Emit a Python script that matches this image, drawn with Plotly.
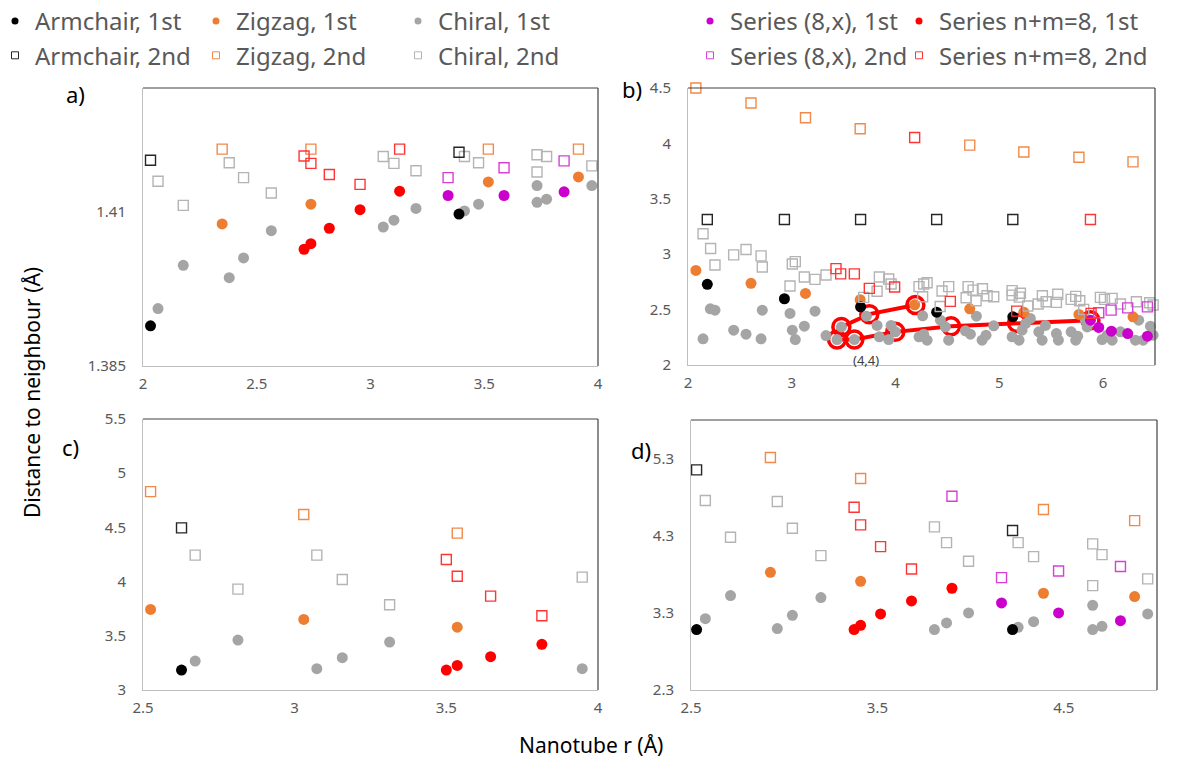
import plotly.graph_objects as go

# ---------------- Panel a ----------------
a_arm_r = [2.033, 3.389]
a_arm_1st = [1.3915, 1.4096]
a_arm_2nd = [1.4183, 1.4196]
a_zig_r = [2.348, 2.738, 3.518, 3.914]
a_zig_1st = [1.4080, 1.4112, 1.4148, 1.4156]
a_zig_2nd = [1.4201, 1.4201, 1.4201, 1.4201]
a_chi_r = [2.066, 2.177, 2.379, 2.442, 2.564, 3.056, 3.103, 3.200, 3.413, 3.475, 3.732, 3.732, 3.774, 3.973]
a_chi_1st = [1.3943, 1.4013, 1.3993, 1.4025, 1.4069, 1.4075, 1.4086, 1.4105, 1.4101, 1.4112, 1.4142, 1.4115, 1.4120, 1.4142]
a_chi_2nd = [1.4149, 1.4110, 1.4179, 1.4155, 1.4130, 1.4189, 1.4178, 1.4166, 1.4189, 1.4179, 1.4192, 1.4164, 1.4189, 1.4174]
a_s8x_r = [3.341, 3.587, 3.851]
a_s8x_1st = [1.4126, 1.4126, 1.4132]
a_s8x_2nd = [1.4155, 1.4171, 1.4182]
a_nm8_r = [2.708, 2.738, 2.819, 2.954, 3.128]
a_nm8_1st = [1.4039, 1.4048, 1.4073, 1.4103, 1.4133]
a_nm8_2nd = [1.4190, 1.4178, 1.4160, 1.4144, 1.4201]

# ---------------- Panel b ----------------
b_arm_r = [2.186, 2.929, 3.663, 4.396, 5.130]
b_arm_1st = [2.728, 2.598, 2.525, 2.477, 2.435]
b_arm_2nd = [3.313, 3.313, 3.313, 3.313, 3.313]
b_zig_r1 = [2.076, 2.607, 3.132, 3.659, 4.184, 4.715, 5.236, 5.767, 6.288]
b_zig_1st = [2.854, 2.737, 2.646, 2.589, 2.543, 2.507, 2.477, 2.456, 2.435]
b_zig_r2 = [2.076, 2.607, 3.132, 3.659, 4.715, 5.236, 5.767, 6.288]
b_zig_2nd = [4.500, 4.364, 4.231, 4.132, 3.984, 3.923, 3.875, 3.833]
b_chi_r1 = [2.145, 2.215, 2.260, 2.440, 2.559, 2.704, 2.716, 3.005, 3.034, 2.983, 3.121, 3.224,
            3.330, 3.478, 3.436, 3.603, 3.719, 3.822, 3.844, 3.934, 3.957, 3.998, 4.226, 4.271,
            4.304, 4.261, 4.432, 4.480, 4.512, 4.673, 4.721, 4.779, 4.834, 4.872, 4.946, 5.123,
            5.190, 5.219, 5.254, 5.299, 5.380, 5.412, 5.444, 5.550, 5.569, 5.692, 5.736, 5.755,
            5.829, 5.846, 5.990, 6.039, 6.087, 6.167, 6.311, 6.343, 6.386, 6.456, 6.482]
b_chi_1st = [2.236, 2.507, 2.495, 2.314, 2.278, 2.236, 2.495, 2.314, 2.230, 2.465, 2.350, 2.486,
             2.266, 2.344, 2.230, 2.230, 2.441, 2.357, 2.254, 2.230, 2.357, 2.299, 2.254, 2.278,
             2.224, 2.444, 2.405, 2.344, 2.224, 2.308, 2.278, 2.441, 2.224, 2.269, 2.354, 2.254,
             2.224, 2.314, 2.375, 2.420, 2.299, 2.224, 2.357, 2.284, 2.224, 2.299, 2.224, 2.260,
             2.405, 2.344, 2.230, 2.269, 2.224, 2.299, 2.224, 2.405, 2.224, 2.350, 2.269]
b_chi_r2 = [2.145, 2.218, 2.260, 2.440, 2.559, 2.704, 2.716, 3.005, 3.034, 2.983, 3.121, 3.224,
            3.330, 3.844, 3.934, 3.957, 3.822, 3.693, 4.226, 4.271, 4.304, 4.261, 4.430, 4.448,
            4.512, 4.699, 4.747, 4.837, 4.680, 4.776, 4.882, 4.946, 5.123, 5.123, 5.203, 5.193,
            5.274, 5.374, 5.415, 5.451, 5.550, 5.563, 5.692, 5.736, 5.775, 5.813, 5.974, 6.013,
            6.087, 6.167, 6.321, 6.449, 6.482]
b_chi_2nd = [3.184, 3.051, 2.903, 2.994, 3.042, 2.985, 2.885, 2.912, 2.933, 2.713, 2.794, 2.773,
             2.812, 2.794, 2.776, 2.731, 2.665, 2.610, 2.707, 2.731, 2.743, 2.616, 2.528, 2.668,
             2.707, 2.707, 2.676, 2.688, 2.607, 2.580, 2.625, 2.616, 2.671, 2.631, 2.647, 2.613,
             2.532, 2.550, 2.625, 2.571, 2.565, 2.638, 2.592, 2.619, 2.580, 2.502, 2.610, 2.592,
             2.601, 2.550, 2.571, 2.562, 2.541]
b_s8x_r1 = [5.878, 5.958, 6.080, 6.237, 6.427]
b_s8x_1st = [2.405, 2.339, 2.305, 2.284, 2.260]
b_s8x_r2 = [5.958, 6.077, 6.237, 6.427]
b_s8x_2nd = [2.471, 2.495, 2.516, 2.525]
b_nm8_r1 = [4.191, 3.747, 3.478, 3.436, 3.603, 3.998, 4.535, 5.171, 5.878]
b_nm8_1st = [2.541, 2.459, 2.344, 2.230, 2.230, 2.299, 2.350, 2.380, 2.405]
b_nm8_r2 = [3.426, 3.471, 3.603, 3.747, 3.991, 4.184, 4.528, 5.167, 5.878, 5.884]
b_nm8_2nd = [2.870, 2.822, 2.822, 2.692, 2.704, 4.053, 2.574, 2.486, 3.313, 2.466]
b_label_r = [3.603]
b_label_d = [2.230]
b_label_text = ["(4,4)"]

# ---------------- Panel c ----------------
c_arm_r = [2.627]
c_arm_1st = [3.184]
c_arm_2nd = [4.496]
c_zig_r = [2.525, 3.030, 3.536]
c_zig_1st = [3.743, 3.651, 3.580]
c_zig_2nd = [4.830, 4.619, 4.447]
c_chi_r = [2.672, 2.813, 3.073, 3.157, 3.313, 3.948]
c_chi_1st = [3.267, 3.461, 3.197, 3.298, 3.442, 3.197]
c_chi_2nd = [4.244, 3.931, 4.244, 4.020, 3.786, 4.041]
c_nm8_r = [3.500, 3.536, 3.646, 3.815]
c_nm8_1st = [3.184, 3.227, 3.307, 3.421]
c_nm8_2nd = [4.204, 4.050, 3.866, 3.685]

# ---------------- Panel d ----------------
d_arm_r = [2.530, 4.225]
d_arm_1st = [3.083, 3.083]
d_arm_2nd = [5.153, 4.367]
d_zig_r = [2.926, 3.410, 4.391, 4.880]
d_zig_1st = [3.826, 3.709, 3.554, 3.511]
d_zig_2nd = [5.313, 5.041, 4.639, 4.496]
d_chi_r = [2.577, 2.712, 2.963, 3.044, 3.197, 3.806, 3.871, 3.989, 4.255, 4.338, 4.655, 4.655, 4.705, 4.950]
d_chi_1st = [3.225, 3.524, 3.096, 3.268, 3.498, 3.083, 3.169, 3.299, 3.113, 3.186, 3.398, 3.083, 3.126, 3.286]
d_chi_2nd = [4.756, 4.280, 4.743, 4.397, 4.042, 4.414, 4.211, 3.969, 4.211, 4.029, 4.194, 3.653, 4.055, 3.740]
d_s8x_r1 = [4.166, 4.472, 4.804]
d_s8x_1st = [3.428, 3.299, 3.199]
d_s8x_r2 = [3.900, 4.166, 4.472, 4.804]
d_s8x_2nd = [4.812, 3.757, 3.843, 3.900]
d_nm8_r1 = [3.375, 3.410, 3.517, 3.683, 3.900]
d_nm8_1st = [3.083, 3.139, 3.286, 3.454, 3.619]
d_nm8_r2 = [3.375, 3.410, 3.517, 3.683]
d_nm8_2nd = [4.669, 4.440, 4.159, 3.869]

series_names = ["Armchair", "Zigzag", "Chiral", "Series (8,x)", "Series n+m=8"]
dot_colors = ["#000000", "#ED7D31", "#A5A5A5", "#CC00CC", "#FF0000"]
sq_colors = ["#262626", "#F08A4B", "#B4B4B4", "#D640D6", "#FF3535"]
panel_labels = ["a)", "b)", "c)", "d)"]

# The page body adds an 8px offset; figure is sized so that it fits the window.
OFF = 8
W, H = 1179 - OFF, 769 - OFF


def fx(sx):
    return (sx - OFF) / W


def fy(sy):
    return 1 - (sy - OFF) / H


fig = go.Figure()

DOT = 11
SQ = 10


def dots(ax, r, d, k):
    fig.add_trace(go.Scatter(x=r, y=d, xaxis=ax[0], yaxis=ax[1], mode="markers",
                             marker=dict(symbol="circle", size=DOT, color=dot_colors[k], line=dict(width=0)),
                             showlegend=False, cliponaxis=False, hoverinfo="skip"))


def squares(ax, r, d, k):
    fig.add_trace(go.Scatter(x=r, y=d, xaxis=ax[0], yaxis=ax[1], mode="markers",
                             marker=dict(symbol="square-open", size=SQ, color=sq_colors[k],
                                         line=dict(width=1.4, color=sq_colors[k])),
                             showlegend=False, cliponaxis=False, hoverinfo="skip"))


A, B, C, D = ("x", "y"), ("x2", "y2"), ("x3", "y3"), ("x4", "y4")

# panel b special: n+m=8 first-neighbour line with rings (drawn underneath)
fig.add_trace(go.Scatter(x=b_nm8_r1, y=b_nm8_1st, xaxis="x2", yaxis="y2", mode="lines+markers",
                         line=dict(color="#FF0000", width=4),
                         marker=dict(symbol="circle-open", size=17, color="#FF0000", line=dict(width=3.5)),
                         showlegend=False, cliponaxis=False, hoverinfo="skip"))

# 1st neighbours
for ax, data in [
    (A, [(a_chi_r, a_chi_1st, 2), (a_zig_r, a_zig_1st, 1), (a_arm_r, a_arm_1st, 0), (a_s8x_r, a_s8x_1st, 3), (a_nm8_r, a_nm8_1st, 4)]),
    (B, [(b_chi_r1, b_chi_1st, 2), (b_zig_r1, b_zig_1st, 1), (b_arm_r, b_arm_1st, 0), (b_s8x_r1, b_s8x_1st, 3)]),
    (C, [(c_chi_r, c_chi_1st, 2), (c_zig_r, c_zig_1st, 1), (c_arm_r, c_arm_1st, 0), (c_nm8_r, c_nm8_1st, 4)]),
    (D, [(d_chi_r, d_chi_1st, 2), (d_zig_r, d_zig_1st, 1), (d_arm_r, d_arm_1st, 0), (d_s8x_r1, d_s8x_1st, 3), (d_nm8_r1, d_nm8_1st, 4)]),
]:
    for r, d, k in data:
        dots(ax, r, d, k)

# 2nd neighbours
for ax, data in [
    (A, [(a_chi_r, a_chi_2nd, 2), (a_zig_r, a_zig_2nd, 1), (a_arm_r, a_arm_2nd, 0), (a_s8x_r, a_s8x_2nd, 3), (a_nm8_r, a_nm8_2nd, 4)]),
    (B, [(b_chi_r2, b_chi_2nd, 2), (b_zig_r2, b_zig_2nd, 1), (b_arm_r, b_arm_2nd, 0), (b_s8x_r2, b_s8x_2nd, 3), (b_nm8_r2, b_nm8_2nd, 4)]),
    (C, [(c_chi_r, c_chi_2nd, 2), (c_zig_r, c_zig_2nd, 1), (c_arm_r, c_arm_2nd, 0), (c_nm8_r, c_nm8_2nd, 4)]),
    (D, [(d_chi_r, d_chi_2nd, 2), (d_zig_r, d_zig_2nd, 1), (d_arm_r, d_arm_2nd, 0), (d_s8x_r2, d_s8x_2nd, 3), (d_nm8_r2, d_nm8_2nd, 4)]),
]:
    for r, d, k in data:
        squares(ax, r, d, k)

# legend entries (one legend per column)
legend_text_px = [35, 236, 438, 730, 939]
for k, name in enumerate(series_names):
    lg = "legend" if k == 0 else f"legend{k+1}"
    fig.add_trace(go.Scatter(x=[None], y=[None], xaxis="x", yaxis="y", mode="markers", name=f"{name}, 1st",
                             legendgroup=f"g{k}a",
                             marker=dict(symbol="circle", size=7, color=dot_colors[k]), legend=lg, showlegend=True))
    fig.add_trace(go.Scatter(x=[None], y=[None], xaxis="x", yaxis="y", mode="markers", name=f"{name}, 2nd",
                             legendgroup=f"g{k}b",
                             marker=dict(symbol="square-open", size=7, color=sq_colors[k], line=dict(width=1)),
                             legend=lg, showlegend=True))

tickfont = dict(family="Noto Sans", size=15, color="#595959")


def xax(x0, x1, rng, tick0, dtick, anchor):
    return dict(domain=[fx(x0), fx(x1)], range=rng, tick0=tick0, dtick=dtick, anchor=anchor,
                showgrid=False, zeroline=False, showline=True, linecolor="#BFBFBF", linewidth=1,
                ticks="", tickfont=tickfont, ticklabelstandoff=4, tickformat=".1~f", fixedrange=True,
                automargin=False)


def yax(y0, y1, rng, tick0, dtick, anchor, fmt=".1~f"):
    return dict(domain=[fy(y1), fy(y0)], range=rng, tick0=tick0, dtick=dtick, anchor=anchor,
                showgrid=False, zeroline=False, showline=True, linecolor="#BFBFBF", linewidth=1,
                ticks="", tickfont=tickfont, ticklabelstandoff=13, tickformat=fmt, fixedrange=True,
                automargin=False)


legends = {}
for k in range(5):
    key = "legend" if k == 0 else f"legend{k+1}"
    legends[key] = dict(x=fx(legend_text_px[k] - 40), y=fy(-1), xanchor="left", yanchor="top", orientation="v",
                        font=dict(family="Noto Sans", size=24, color="#595959"),
                        bgcolor="rgba(0,0,0,0)", tracegroupgap=0, itemclick=False, itemdoubleclick=False)

shapes = []
for i in ["", "2", "3", "4"]:
    shapes.append(dict(type="line", xref=f"x{i} domain", yref=f"y{i} domain", x0=0, x1=1, y0=1, y1=1,
                       line=dict(color="#404040", width=1.2)))
    shapes.append(dict(type="line", xref=f"x{i} domain", yref=f"y{i} domain", x0=1, x1=1, y0=0, y1=1,
                       line=dict(color="#404040", width=1.2)))

annotations = [
    dict(text="Distance to neighbour (Å)", x=fx(32), y=fy(393), xref="paper", yref="paper",
         xanchor="center", yanchor="middle",
         textangle=-90, showarrow=False, font=dict(family="Noto Sans", size=21, color="#000000")),
    dict(text="Nanotube r (Å)", x=fx(591), y=fy(745), xref="paper", yref="paper",
         xanchor="center", yanchor="middle",
         showarrow=False, font=dict(family="Noto Sans", size=21, color="#000000")),
]
for lab, (px, py) in zip(panel_labels, [(75, 94), (632, 89), (70, 447), (641, 450)]):
    annotations.append(dict(text=lab, x=fx(px), y=fy(py), xref="paper", yref="paper", showarrow=False,
                            xanchor="center", yanchor="middle",
                            font=dict(family="Noto Sans", size=22, color="#000000")))
for r, d, t in zip(b_label_r, b_label_d, b_label_text):
    annotations.append(dict(text=t, x=r, y=d, xref="x2", yref="y2", showarrow=False, yshift=-20, xshift=12,
                            font=dict(family="Noto Sans", size=13, color="#404040")))

fig.update_layout(
    width=W, height=H, autosize=False,
    margin=dict(l=0, r=0, t=0, b=0, autoexpand=False),
    paper_bgcolor="white", plot_bgcolor="white",
    xaxis=xax(143, 598, [2, 4], 2, 0.5, "y"),
    yaxis=yax(88, 366, [1.385, 1.43], 1.385, 0.025, "x", fmt=".3~f"),
    xaxis2=xax(688, 1155, [2, 6.5], 2, 1, "y2"),
    yaxis2=yax(88, 365, [2, 4.5], 2, 0.5, "x2"),
    xaxis3=xax(143, 598, [2.5, 4], 2.5, 0.5, "y3"),
    yaxis3=yax(419, 690, [3, 5.5], 3, 0.5, "x3"),
    xaxis4=xax(691, 1157, [2.5, 5.0], 2.5, 1, "y4"),
    yaxis4=yax(420, 690, [2.3, 5.8], 2.3, 1, "x4"),
    shapes=shapes, annotations=annotations,
    **legends,
)

fig.write_html("out.html")
